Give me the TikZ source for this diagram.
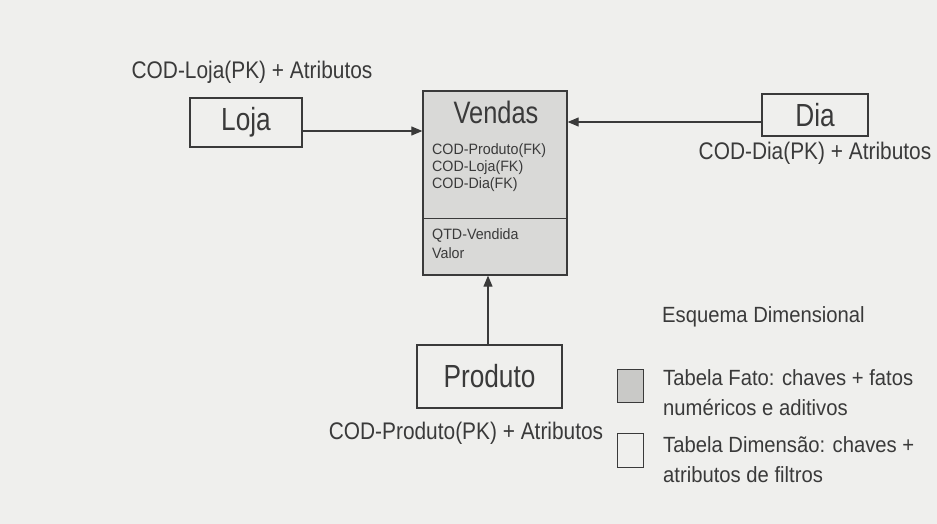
\documentclass[tikz,border=0pt]{standalone}
\usepackage{fontspec}
\setmainfont{Liberation Sans}
\newfontfamily\titlefam[FakeStretch=0.82]{Liberation Sans}
\newfontfamily\lblfam[FakeStretch=0.87]{Liberation Sans}
\newfontfamily\itemfam[FakeStretch=0.95]{Liberation Sans}
\newfontfamily\legfam[FakeStretch=0.92]{Liberation Sans}
\usetikzlibrary{arrows.meta}
\definecolor{bg}{HTML}{EFEFED}
\definecolor{ink}{HTML}{3A3A3A}
\definecolor{factfill}{HTML}{D9D9D7}
\definecolor{legfill}{HTML}{C9C9C7}
\begin{document}
\begin{tikzpicture}[x=1pt,y=-1pt,
  dimbox/.style={draw=ink, line width=1.3pt, inner sep=0pt, text=ink,
    font=\titlefam\fontsize{32}{32}\selectfont},
  lbl/.style={text=ink, inner sep=0pt, font=\lblfam\fontsize{24}{24}\selectfont},
  item/.style={text=ink, inner sep=0pt, anchor=west, font=\itemfam\fontsize{15}{15}\selectfont},
  legtxt/.style={text=ink, inner sep=0pt, anchor=west, align=left,
    font=\legfam\fontsize{22}{30}\selectfont},
  arr/.style={draw=ink, line width=1.1pt, -{Triangle[length=11pt,width=9pt]}}]
\fill[bg] (0,0) rectangle (937,524);
\useasboundingbox (0,0) rectangle (937,524);

% dimension boxes
\node[dimbox, minimum width=112pt, minimum height=49pt] (loja) at (246,122.5) {Loja};
\node[dimbox, minimum width=106pt, minimum height=42pt] (dia) at (815,115) {Dia};
\node[dimbox, minimum width=145pt, minimum height=63pt] (produto) at (489.5,376.5) {Produto};

% fact table
\node[draw=ink, fill=factfill, line width=1.3pt, minimum width=144pt, minimum height=184pt, inner sep=0pt] (vendas) at (495,183) {};
\draw[ink, line width=1pt] (vendas.west |- 0,218) -- (vendas.east |- 0,218);
\node[text=ink, inner sep=0pt, font=\titlefam\fontsize{31}{31}\selectfont] (vtitle) at (496,112) {Vendas};
\node[item] (i1) at (432,151) {COD-Produto(FK)};
\node[item] (i2) at (432,168) {COD-Loja(FK)};
\node[item] (i3) at (432,185) {COD-Dia(FK)};
\node[item] (i4) at (432,235) {QTD-Vendida};
\node[item] (i5) at (432,253) {Valor};

% labels
\node[lbl] (lojalbl) at (252,72) {COD-Loja(PK) + Atributos};
\node[lbl] (dialbl) at (815,153) {COD-Dia(PK) + Atributos};
\node[lbl] (produtolbl) at (466,433) {COD-Produto(PK) + Atributos};

% connectors
\draw[arr] ([yshift=-8.5pt]loja.east) -- (vendas.west |- 0,131);
\draw[arr] ([yshift=-7pt]dia.west) -- (vendas.east |- 0,122);
\draw[arr] (produto.north -| 488,0) -- (vendas.south -| 488,0);

% legend
\node[text=ink, inner sep=0pt, anchor=west, font=\legfam\fontsize{22}{22}\selectfont] (legtitle) at (662,317) {Esquema Dimensional};
\node[draw=ink, fill=legfill, line width=1pt, minimum width=26pt, minimum height=33pt, inner sep=0pt] (legfato) at (630,385.5) {};
\node[draw=ink, fill=bg, line width=1pt, minimum width=26pt, minimum height=34pt, inner sep=0pt] (legdim) at (630,450) {};
\node[legtxt] (fatotxt) at (663,393) {Tabela Fato: chaves + fatos\\numéricos e aditivos};
\node[legtxt] (dimtxt) at (663,459.5) {Tabela Dimensão: chaves +\\atributos de filtros};
\end{tikzpicture}
\end{document}
